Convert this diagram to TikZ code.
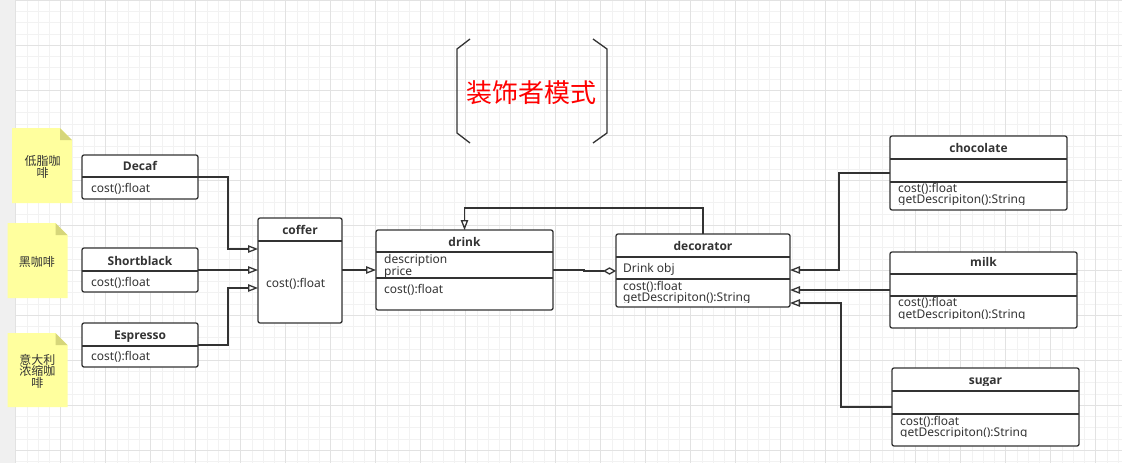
\documentclass[tikz,border=0pt]{standalone}
\usepackage{fontspec}
\setmainfont{Noto Sans}
\newfontfamily\cjk{Noto Sans CJK SC}
\newfontfamily\titlefont{Open Sans}
\usetikzlibrary{arrows.meta}
\definecolor{linec}{HTML}{333333}
\definecolor{stripc}{HTML}{F0F0F0}
\definecolor{gridminor}{HTML}{F2F2F2}
\definecolor{gridmajor}{HTML}{E2E2E2}
\definecolor{notefill}{RGB}{255,255,158}
\definecolor{notefold}{RGB}{214,214,122}
\definecolor{titlered}{HTML}{FF0000}
\tikzset{
  umlbox/.style={draw=linec, line width=1.3pt, rounded corners=2pt, fill=white,
    anchor=north west, inner sep=0pt, outer sep=0pt},
  umlline/.style={draw=linec, line width=1.3pt},
  umltitle/.style={anchor=base, inner sep=0pt, text=linec,
    font=\titlefont\bfseries\fontsize{12}{12}\selectfont},
  umlmember/.style={anchor=base west, inner sep=0pt, text=linec,
    font=\fontsize{12}{12}\selectfont},
  notebg/.style={anchor=north west, inner sep=0pt, outer sep=0pt},
  notetext/.style={align=center, inner sep=0pt, text=linec,
    font=\cjk\fontsize{12}{11.5}\selectfont},
  conn/.style={draw=linec, line width=1.3pt},
  inh/.style={conn, -{Triangle[open, length=10pt, width=7.5pt, fill=white]}},
  agg/.style={conn, -{Diamond[open, length=13pt, width=7.5pt, fill=white]}},
  bracketline/.style={draw=linec, line width=1.3pt},
}
\begin{document}
\begin{tikzpicture}[x=1pt, y=-1pt]
\useasboundingbox (0,0) rectangle (1122,463);
% canvas background and grid
\fill[white] (0,0) rectangle (1122,463);
\fill[stripc] (0,0) rectangle (15.5,463);
\foreach \k in {0,...,98} \draw[gridminor, line width=0.8pt] ({15.7+11.25*\k},0) -- ({15.7+11.25*\k},463);
\foreach \k in {0,...,41} \draw[gridminor, line width=0.8pt] (15.5,{0.3+11.25*\k}) -- (1122,{0.3+11.25*\k});
\foreach \k in {0,...,24} \draw[gridmajor, line width=0.9pt] ({15.7+45*\k},0) -- ({15.7+45*\k},463);
\foreach \k in {0,...,10} \draw[gridmajor, line width=0.9pt] (15.5,{0.3+45*\k}) -- (1122,{0.3+45*\k});

% heading with brackets
\draw[bracketline] (470,39) -- (457,49) -- (457,133) -- (470,143);
\draw[bracketline] (593,39) -- (607,49) -- (607,133) -- (593,143);
\node[text=titlered, inner sep=0pt, font=\cjk\fontsize{26}{26}\selectfont] (heading) at (531,93) {装饰者模式};

% sticky notes
\newcommand\notepaper[1]{%
  \fill[notefill] (#1.north west) -- ([xshift=-12pt]#1.north east) -- ([yshift=-12pt]#1.north east)
     -- (#1.south east) -- (#1.south west) -- cycle;
  \fill[notefold] ([xshift=-12pt]#1.north east) -- ([xshift=-12pt,yshift=-12pt]#1.north east)
     -- ([yshift=-12pt]#1.north east) -- cycle;}
\node[notebg, minimum width=60pt, minimum height=75pt] (n1) at (12,128) {};
\notepaper{n1}
\node[notetext] at (42.5,167) {低脂咖\\啡};
\node[notebg, minimum width=60pt, minimum height=75pt] (n2) at (7.5,223) {};
\notepaper{n2}
\node[notetext] at (37,262) {黑咖啡};
\node[notebg, minimum width=60pt, minimum height=74pt] (n3) at (7.5,333) {};
\notepaper{n3}
\node[notetext] at (37.3,371) {意大利\\浓缩咖\\啡};

% concrete coffees
\node[umlbox, minimum width=116pt, minimum height=44pt] (decaf) at (82,155) {};
\draw[umlline] (decaf.west |- 0,177) -- (decaf.east |- 0,177);
\node[umltitle] at (140,170.7) {Decaf};
\node[umlmember] at (91,192.7) {cost():float};

\node[umlbox, minimum width=116pt, minimum height=44pt] (shortblack) at (82,248) {};
\draw[umlline] (shortblack.west |- 0,271) -- (shortblack.east |- 0,271);
\node[umltitle] at (140,265) {Shortblack};
\node[umlmember] at (91,286.7) {cost():float};

\node[umlbox, minimum width=116pt, minimum height=44pt] (espresso) at (82,323) {};
\draw[umlline] (espresso.west |- 0,346) -- (espresso.east |- 0,346);
\node[umltitle] at (140,339) {Espresso};
\node[umlmember] at (91,360.7) {cost():float};

% coffer
\node[umlbox, minimum width=84pt, minimum height=105pt] (coffer) at (258,218) {};
\draw[umlline] (coffer.west |- 0,241) -- (coffer.east |- 0,241);
\node[umltitle] at (300,234.3) {coffer};
\node[umlmember] at (266,287) {cost():float};

% drink
\node[umlbox, minimum width=177pt, minimum height=80pt] (drink) at (376,230) {};
\draw[umlline] (drink.west |- 0,252) -- (drink.east |- 0,252);
\draw[umlline] (drink.west |- 0,278) -- (drink.east |- 0,278);
\node[umltitle] at (464.5,246.7) {drink};
\begin{scope}
  \clip (376,252) rectangle (553,277.5);
  \node[umlmember] at (384,263.7) {description};
  \node[umlmember] at (384,275) {price};
\end{scope}
\node[umlmember] at (384,293) {cost():float};

% decorator
\node[umlbox, minimum width=174pt, minimum height=73pt] (decorator) at (616,234) {};
\draw[umlline] (decorator.west |- 0,257) -- (decorator.east |- 0,257);
\draw[umlline] (decorator.west |- 0,279) -- (decorator.east |- 0,279);
\node[umltitle] at (703,250) {decorator};
\node[umlmember] at (623,272.7) {Drink obj};
\begin{scope}
  \clip (616,279) rectangle (790,302);
  \node[umlmember] at (623,290) {cost():float};
  \node[umlmember] at (623,301.3) {getDescripiton():String};
\end{scope}

% condiments
\node[umlbox, minimum width=177pt, minimum height=74pt] (chocolate) at (890,136) {};
\draw[umlline] (chocolate.west |- 0,159) -- (chocolate.east |- 0,159);
\draw[umlline] (chocolate.west |- 0,182) -- (chocolate.east |- 0,182);
\node[umltitle] at (978.5,152.7) {chocolate};
\begin{scope}
  \clip (890,182) rectangle (1067,204.5);
  \node[umlmember] at (898,192.3) {cost():float};
  \node[umlmember] at (898,203.3) {getDescripiton():String};
\end{scope}

\node[umlbox, minimum width=187pt, minimum height=76pt] (milk) at (890,252) {};
\draw[umlline] (milk.west |- 0,274) -- (milk.east |- 0,274);
\draw[umlline] (milk.west |- 0,296) -- (milk.east |- 0,296);
\node[umltitle] at (983.5,266.7) {milk};
\begin{scope}
  \clip (890,296) rectangle (1077,318.5);
  \node[umlmember] at (898,306.7) {cost():float};
  \node[umlmember] at (898,318) {getDescripiton():String};
\end{scope}

\node[umlbox, minimum width=187pt, minimum height=78pt] (sugar) at (892,368) {};
\draw[umlline] (sugar.west |- 0,391) -- (sugar.east |- 0,391);
\draw[umlline] (sugar.west |- 0,414) -- (sugar.east |- 0,414);
\begin{scope}
  \clip (892,368) rectangle (1079,385.5);
  \node[umltitle] at (985.5,384) {sugar};
\end{scope}
\begin{scope}
  \clip (892,414) rectangle (1079,436.5);
  \node[umlmember] at (900,425) {cost():float};
  \node[umlmember] at (900,436) {getDescripiton():String};
\end{scope}

% connectors
\draw[inh] (decaf.east) -- (228,177) -- (228,249) -- (coffer.west |- 0,249);
\draw[inh] (shortblack.east) -- (coffer.west |- shortblack.east);
\draw[inh] (espresso.east) -- (228,345) -- (228,288) -- (coffer.west |- 0,288);
\draw[inh] (coffer.east |- drink.west) -- (drink.west);
\draw[agg] (drink.east) -- (584,270) -- (584,271) -- (decorator.west |- 0,271);
\draw[inh] (decorator.north) -- (decorator.north |- 0,208) -| (drink.north);
\draw[inh] (chocolate.west) -| (839,270) -- (decorator.east |- 0,270);
\draw[inh] (milk.west) -- (decorator.east |- 0,290);
\draw[inh] (sugar.west) -| (841,303) -- (decorator.east |- 0,303);
\end{tikzpicture}
\end{document}
